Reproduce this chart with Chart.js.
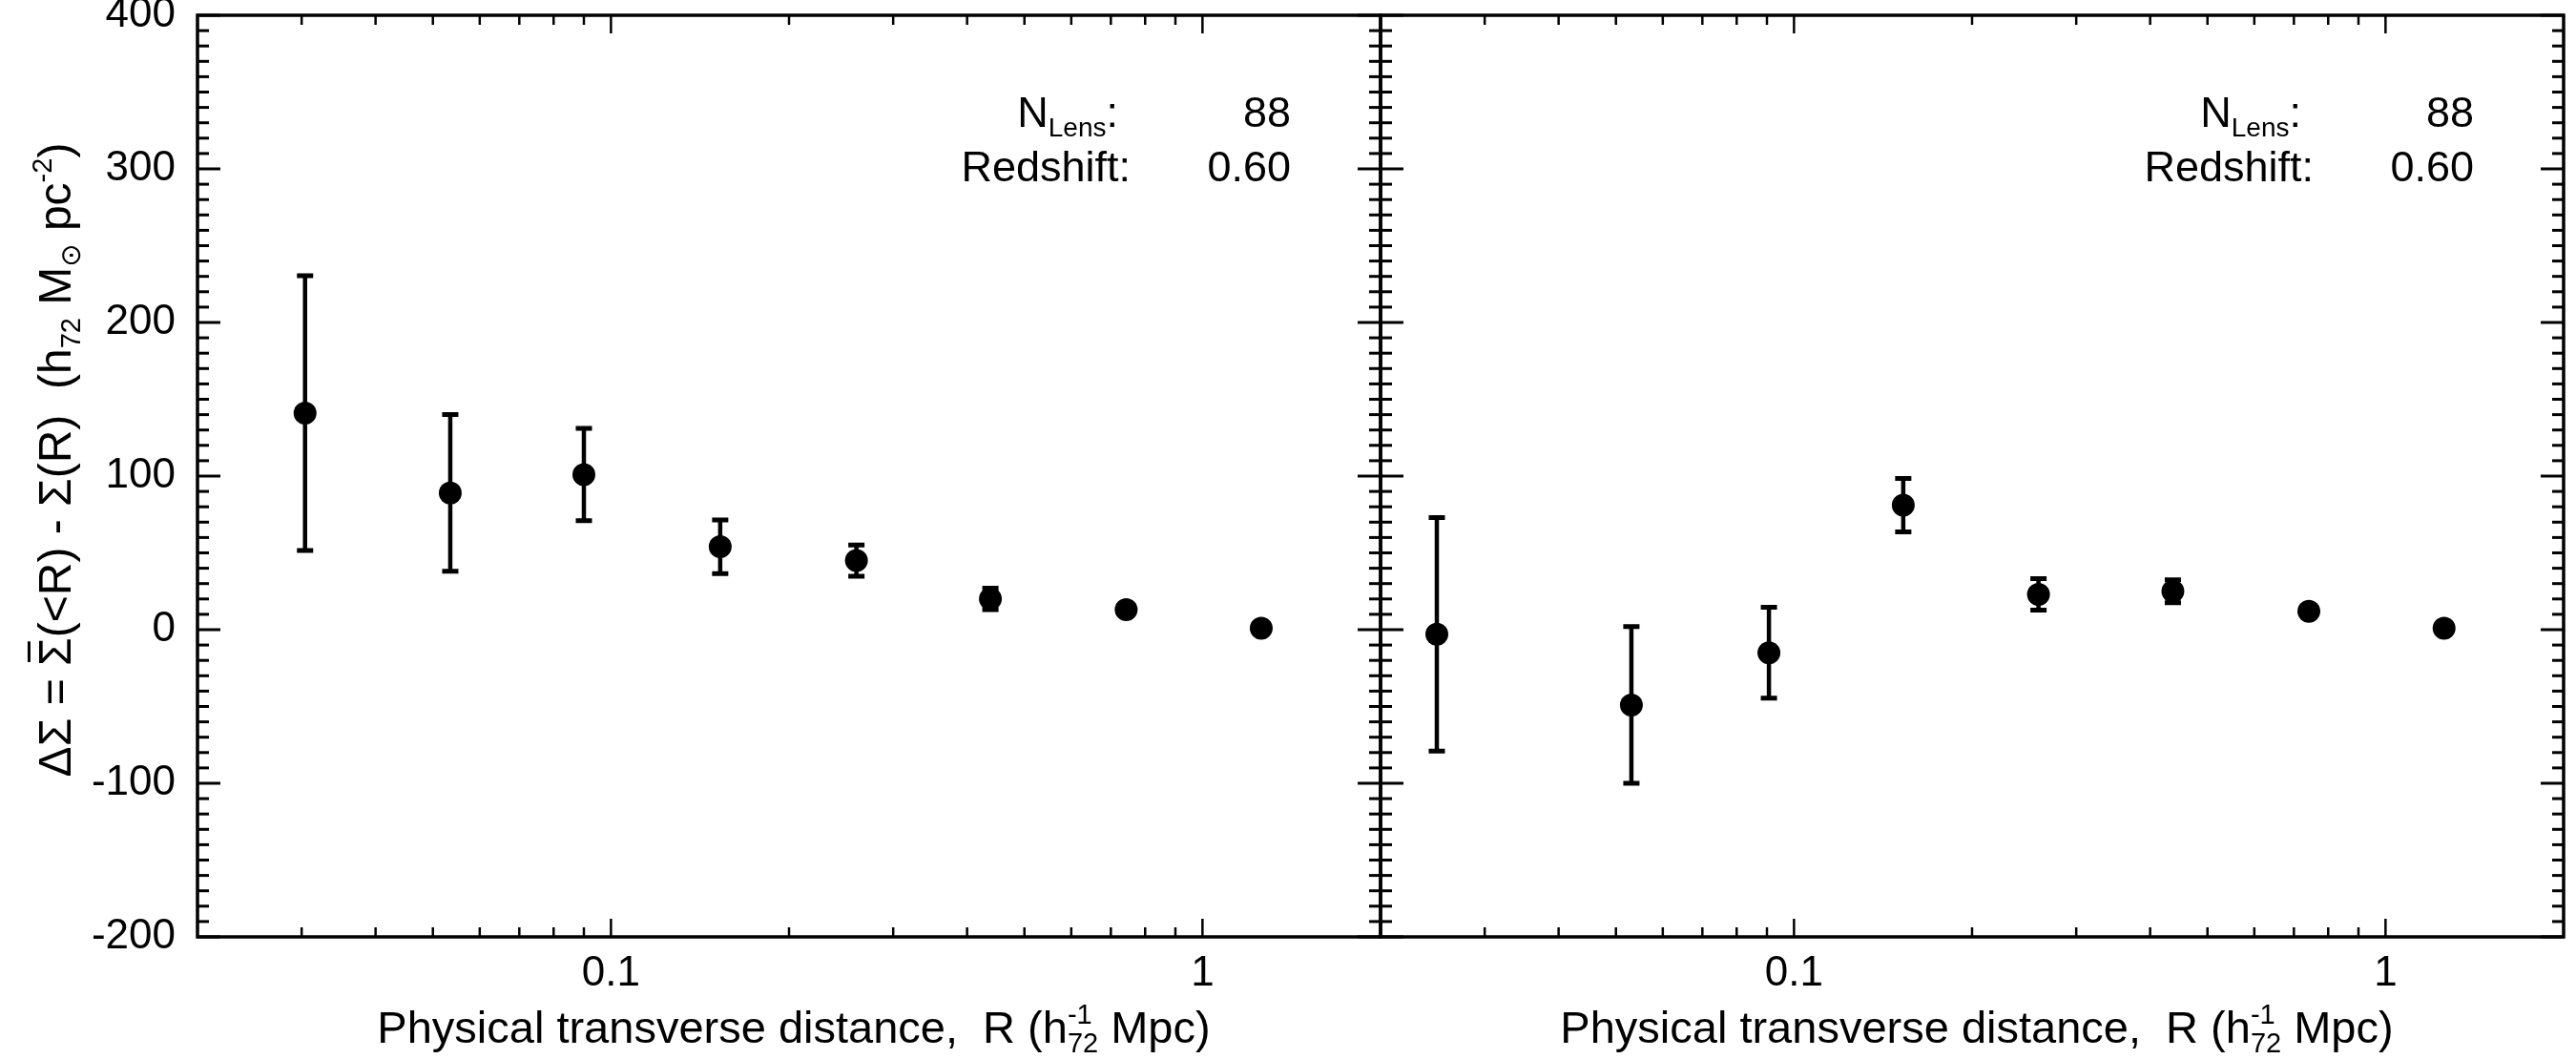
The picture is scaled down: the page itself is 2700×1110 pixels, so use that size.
<!DOCTYPE html>
<html>
<head>
<meta charset="utf-8">
<script src="https://cdn.jsdelivr.net/npm/chart.js@4.4.1/dist/chart.umd.min.js"></script>
<style>
  html, body { margin: 0; padding: 0; background: #fff; }
  #wrap { position: relative; width: 2700px; height: 1110px; }
  #wrap canvas { position: absolute; left: 0; top: 0; }
</style>
</head>
<body>
<div id="wrap">
  <canvas id="panelLeft" width="2700" height="1110"></canvas>
  <canvas id="panelRight" width="2700" height="1110"></canvas>
</div>
<script>
// ==============================
// DATA
// ==============================
const radiiLeft  = [0.0304, 0.0535, 0.0900, 0.153, 0.260, 0.438, 0.743, 1.257];
const sigmaLeft  = [141, 89, 101, 54, 45, 20, 13, 1];
const errLeft    = [89.5, 51, 30, 17.5, 10.2, 7, 3, 1.5];

const radiiRight = [0.0249, 0.0531, 0.0907, 0.153, 0.259, 0.437, 0.742, 1.256];
const sigmaRight = [-3, -49, -15, 81, 23, 25, 12, 1];
const errRight   = [76, 51, 29.6, 17.4, 10.2, 7.5, 3, 1.5];

const nLens = "88";
const redshift = "0.60";

// axes
const xMin = 0.02, xMax = 2;
const yMin = -200, yMax = 400;
const xMajorTicks = [0.1, 1];
const xMinorTicks = [0.03, 0.04, 0.05, 0.06, 0.07, 0.08, 0.09, 0.2, 0.3, 0.4, 0.5, 0.6, 0.7, 0.8, 0.9];
const yMajorStep = 100;
const yMinorStep = 10;

const FONT = '"Liberation Sans", Arial, Helvetica, "DejaVu Sans", sans-serif';
const font = (size) => size + "px " + FONT;

// ==============================
// rich text helper (sub / superscripts)
// ==============================
function partWidth(ctx, p) {
  if (p.stack) {
    return Math.max(...p.stack.map(s => { ctx.font = font(s.size); return ctx.measureText(s.text).width; }));
  }
  ctx.font = font(p.size);
  return ctx.measureText(p.text).width;
}

function drawParts(ctx, parts, x, y, align) {
  const widths = parts.map(p => partWidth(ctx, p));
  const total = widths.reduce((s, w) => s + w, 0);
  let cx = align === "center" ? x - total / 2 : align === "right" ? x - total : x;
  ctx.textAlign = "left";
  ctx.textBaseline = "alphabetic";
  ctx.fillStyle = "#000";
  parts.forEach((p, i) => {
    const items = p.stack || [p];
    items.forEach(s => {
      ctx.font = font(s.size);
      ctx.fillText(s.text, cx, y + (s.dy || 0));
    });
    if (p.bar) {
      const by = y - p.size * 0.72 - 9;
      ctx.save();
      ctx.strokeStyle = "#000";
      ctx.lineWidth = 3;
      ctx.beginPath();
      ctx.moveTo(cx + 4, by);
      ctx.lineTo(cx + widths[i] - 4, by);
      ctx.stroke();
      ctx.restore();
    }
    cx += widths[i];
  });
}

// ==============================
// PLUGINS
// ==============================
const errorBarPlugin = {
  id: "errorBars",
  beforeDatasetsDraw(chart) {
    const { ctx, scales: { x, y } } = chart;
    ctx.save();
    ctx.strokeStyle = "#000";
    ctx.lineCap = "butt";
    chart.data.datasets.forEach(ds => {
      ds.data.forEach((p, i) => {
        const e = ds.errors[i];
        const px = x.getPixelForValue(p.x);
        const top = y.getPixelForValue(p.y + e);
        const bot = y.getPixelForValue(p.y - e);
        ctx.lineWidth = 4.5;
        ctx.beginPath();
        ctx.moveTo(px, top);
        ctx.lineTo(px, bot);
        ctx.stroke();
        ctx.lineWidth = 5;
        ctx.beginPath();
        ctx.moveTo(px - 8.5, top); ctx.lineTo(px + 8.5, top);
        ctx.moveTo(px - 8.5, bot); ctx.lineTo(px + 8.5, bot);
        ctx.stroke();
      });
    });
    ctx.restore();
  }
};

const framePlugin = {
  id: "frame",
  afterDraw(chart) {
    const { ctx, chartArea: a, scales: { x, y } } = chart;
    ctx.save();
    ctx.strokeStyle = "#000";
    ctx.lineCap = "butt";

    const seg = (x1, y1, x2, y2) => { ctx.beginPath(); ctx.moveTo(x1, y1); ctx.lineTo(x2, y2); ctx.stroke(); };

    // y ticks, both sides, pointing inward
    ctx.lineWidth = 3;
    for (let v = yMin; v <= yMax; v += yMinorStep) {
      const py = y.getPixelForValue(v);
      const len = v % yMajorStep === 0 ? 24 : 12;
      seg(a.left, py, a.left + len, py);
      seg(a.right, py, a.right - len, py);
    }

    // x ticks, top and bottom
    ctx.lineWidth = 2.5;
    const xTick = (v, len) => {
      const px = x.getPixelForValue(v);
      seg(px, a.bottom, px, a.bottom - len);
      seg(px, a.top, px, a.top + len);
    };
    xMinorTicks.forEach(v => xTick(v, 10));
    xMajorTicks.forEach(v => xTick(v, 19));

    // frame
    ctx.lineWidth = 3.5;
    ctx.strokeRect(a.left, a.top, a.right - a.left, a.bottom - a.top);

    // annotation
    const opts = chart.options.plugins.frame;
    drawParts(ctx, [
      { text: "N", size: 45 },
      { text: "Lens", size: 28, dy: 10 },
      { text: ":", size: 45 }
    ], a.right - 275, 133, "right");
    drawParts(ctx, [{ text: "Redshift:", size: 45 }], a.right - 262, 190, "right");
    drawParts(ctx, [{ text: nLens, size: 45 }], a.right - 94, 133, "right");
    drawParts(ctx, [{ text: redshift, size: 45 }], a.right - 94, 190, "right");

    // x title
    drawParts(ctx, [
      { text: "Physical transverse distance,  R (h", size: 47 },
      { stack: [{ text: "-1", size: 29, dy: -20 }, { text: "72", size: 29, dy: 10 }] },
      { text: " Mpc)", size: 47 }
    ], (a.left + a.right) / 2 + 5, 1093, "center");

    // y title (left panel only)
    if (opts.yTitle) {
      ctx.save();
      ctx.translate(74, 482);
      ctx.rotate(-Math.PI / 2);
      drawParts(ctx, [
        { text: "ΔΣ = ", size: 48 },
        { text: "Σ", size: 48, bar: true },
        { text: "(<R) - Σ(R)  (h", size: 48 },
        { text: "72", size: 29, dy: 10 },
        { text: " M", size: 48 },
        { text: "⊙", size: 29, dy: 10 },
        { text: " pc", size: 48 },
        { text: "-2", size: 29, dy: -20 },
        { text: ")", size: 48 }
      ], 0, 0, "center");
      ctx.restore();
    }
    ctx.restore();
  }
};

// ==============================
// CHARTS
// ==============================
function buildPanel(canvasId, radii, sigma, errs, isLeft) {
  const ctx = document.getElementById(canvasId).getContext("2d");
  return new Chart(ctx, {
    type: "scatter",
    data: {
      datasets: [{
        data: radii.map((r, i) => ({ x: r, y: sigma[i] })),
        errors: errs,
        pointRadius: 12,
        pointHoverRadius: 12,
        pointBackgroundColor: "#000",
        pointBorderWidth: 0,
        showLine: false
      }]
    },
    options: {
      responsive: false,
      devicePixelRatio: 1,
      animation: false,
      events: [],
      layout: {
        padding: isLeft
          ? { left: 0, right: 1253, top: 16, bottom: 0 }
          : { left: 1447, right: 13, top: 16, bottom: 0 }
      },
      plugins: {
        legend: { display: false },
        tooltip: { enabled: false },
        frame: { yTitle: isLeft }
      },
      scales: {
        x: {
          type: "logarithmic",
          min: xMin,
          max: xMax,
          grid: { display: false, drawTicks: false },
          border: { display: false },
          afterBuildTicks: s => { s.ticks = xMajorTicks.map(v => ({ value: v })); },
          afterFit: s => { s.height = 128; s.paddingLeft = 0; s.paddingRight = 0; },
          ticks: {
            autoSkip: false,
            maxRotation: 0,
            padding: 12,
            color: "#000",
            font: { family: FONT, size: 44 },
            callback: v => String(v)
          }
        },
        y: {
          type: "linear",
          display: isLeft,
          min: yMin,
          max: yMax,
          grid: { display: false, drawTicks: false },
          border: { display: false },
          afterFit: s => {
            if (isLeft) s.width = 207;
            s.paddingTop = 0;
            s.paddingBottom = 0;
          },
          ticks: {
            stepSize: yMajorStep,
            padding: 23,
            color: "#000",
            font: { family: FONT, size: 44 }
          }
        }
      }
    },
    plugins: [errorBarPlugin, framePlugin]
  });
}

buildPanel("panelLeft", radiiLeft, sigmaLeft, errLeft, true);
buildPanel("panelRight", radiiRight, sigmaRight, errRight, false);
</script>
</body>
</html>
